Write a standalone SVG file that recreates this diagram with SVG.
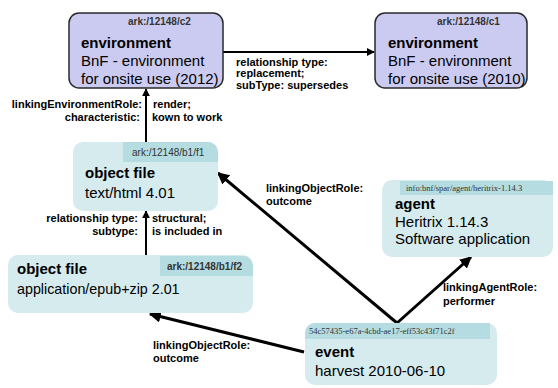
<svg xmlns="http://www.w3.org/2000/svg" width="558" height="388" viewBox="0 0 558 388">
<defs>
<marker id="ah" viewBox="0 0 10 10" refX="9" refY="5" markerWidth="4" markerHeight="4" orient="auto" markerUnits="strokeWidth">
<path d="M0,0 L10,5 L0,10 Z" fill="#000"/>
</marker>
<style>
text{font-family:"Liberation Sans",Arial,sans-serif;fill:#000}
.env{fill:#cbcbf1;stroke:#2a2a2a;stroke-width:1.5}
.obj{fill:#d6ebee}
.hdr{fill:#b5dce1}
.id{font-size:10px;font-weight:bold;fill:#333}
.ttl{font-size:15px;font-weight:bold}
.txt{font-size:15px}
.lbl{font-size:11px;font-weight:bold}
.sid{font-family:"Liberation Serif",serif;font-size:8.5px;fill:#333}
.c{stroke:#000;fill:none;marker-end:url(#ah)}
</style>
</defs>
<rect width="558" height="388" fill="#fff"/>
<g id="connectors">
<line class="c" x1="223" y1="52" x2="374" y2="52" stroke-width="2"/>
<line class="c" x1="146" y1="142" x2="146" y2="89" stroke-width="2"/>
<line class="c" x1="146" y1="255" x2="146" y2="211" stroke-width="2"/>
<line class="c" x1="397" y1="323" x2="218" y2="173" stroke-width="3"/>
<line class="c" x1="397" y1="323" x2="471" y2="257" stroke-width="3"/>
<line class="c" x1="304" y1="352" x2="150" y2="314" stroke-width="3"/>
<text class="lbl" x="236" y="66">relationship type:</text>
<text class="lbl" x="236" y="77">replacement;</text>
<text class="lbl" x="236" y="89">subType: supersedes</text>
<text class="lbl" x="142" y="108" text-anchor="end">linkingEnvironmentRole:</text>
<text class="lbl" x="153" y="108">render;</text>
<text class="lbl" x="140" y="121" text-anchor="end">characteristic:</text>
<text class="lbl" x="152" y="121">kown to work</text>
<text class="lbl" x="138" y="222" text-anchor="end">relationship type:</text>
<text class="lbl" x="152" y="222">structural;</text>
<text class="lbl" x="138" y="235" text-anchor="end">subtype:</text>
<text class="lbl" x="152" y="235">is included in</text>
<text class="lbl" x="266" y="192">linkingObjectRole:</text>
<text class="lbl" x="266" y="205">outcome</text>
<text class="lbl" x="443" y="291">linkingAgentRole:</text>
<text class="lbl" x="443" y="305">performer</text>
<text class="lbl" x="153" y="349">linkingObjectRole:</text>
<text class="lbl" x="153" y="362">outcome</text>
</g>
<g id="env-c2">
<rect class="env" x="69" y="13" width="154" height="75" rx="10"/>
<text class="id" x="128" y="25">ark:/12148/c2</text>
<text class="ttl" x="81" y="48">environment</text>
<text class="txt" x="81" y="66">BnF - environment</text>
<text class="txt" x="81" y="84">for onsite use (2012)</text>
</g>
<g id="env-c1">
<rect class="env" x="375" y="13" width="152" height="75" rx="10"/>
<text class="id" x="437" y="25">ark:/12148/c1</text>
<text class="ttl" x="388" y="48">environment</text>
<text class="txt" x="388" y="66">BnF - environment</text>
<text class="txt" x="388" y="84">for onsite use (2010)</text>
</g>
<g id="file-f1">
<rect class="obj" x="73" y="142" width="145" height="69" rx="10"/>
<path class="hdr" d="M123,142 H208 A10,10 0 0 1 218,152 V162 H123 Z"/>
<text class="id" x="132" y="156" font-weight="normal" style="font-weight:normal">ark:/12148/b1/f1</text>
<text class="ttl" x="85" y="178">object file</text>
<text class="txt" x="85" y="198">text/html 4.01</text>
</g>
<g id="file-f2">
<rect class="obj" x="8" y="255" width="245" height="58" rx="10"/>
<path class="hdr" d="M160,256 H243 A10,10 0 0 1 253,266 V276 H160 Z"/>
<text class="id" x="167" y="270">ark:/12148/b1/f2</text>
<text class="ttl" x="17" y="274">object file</text>
<text class="txt" x="17" y="294" style="font-size:14.3px">application/epub+zip 2.01</text>
</g>
<g id="agent">
<rect class="obj" x="382" y="180" width="171" height="77" rx="10"/>
<rect class="hdr" x="400" y="181" width="153" height="14"/>
<text class="sid" x="406" y="191">info:bnf/spar/agent/heritrix-1.14.3</text>
<text class="ttl" x="395" y="209">agent</text>
<text class="txt" x="395" y="227">Heritrix 1.14.3</text>
<text class="txt" x="395" y="244">Software application</text>
</g>
<g id="event">
<rect class="obj" x="305" y="323" width="192" height="62" rx="10"/>
<path class="hdr" d="M315,323 H490 V339 H305 V333 A10,10 0 0 1 315,323 Z"/>
<text class="sid" x="309" y="334">54c57435-e67a-4cbd-ae17-eff53c43f71c2f</text>
<text class="ttl" x="315" y="357">event</text>
<text class="txt" x="315" y="376">harvest 2010-06-10</text>
</g>
</svg>
